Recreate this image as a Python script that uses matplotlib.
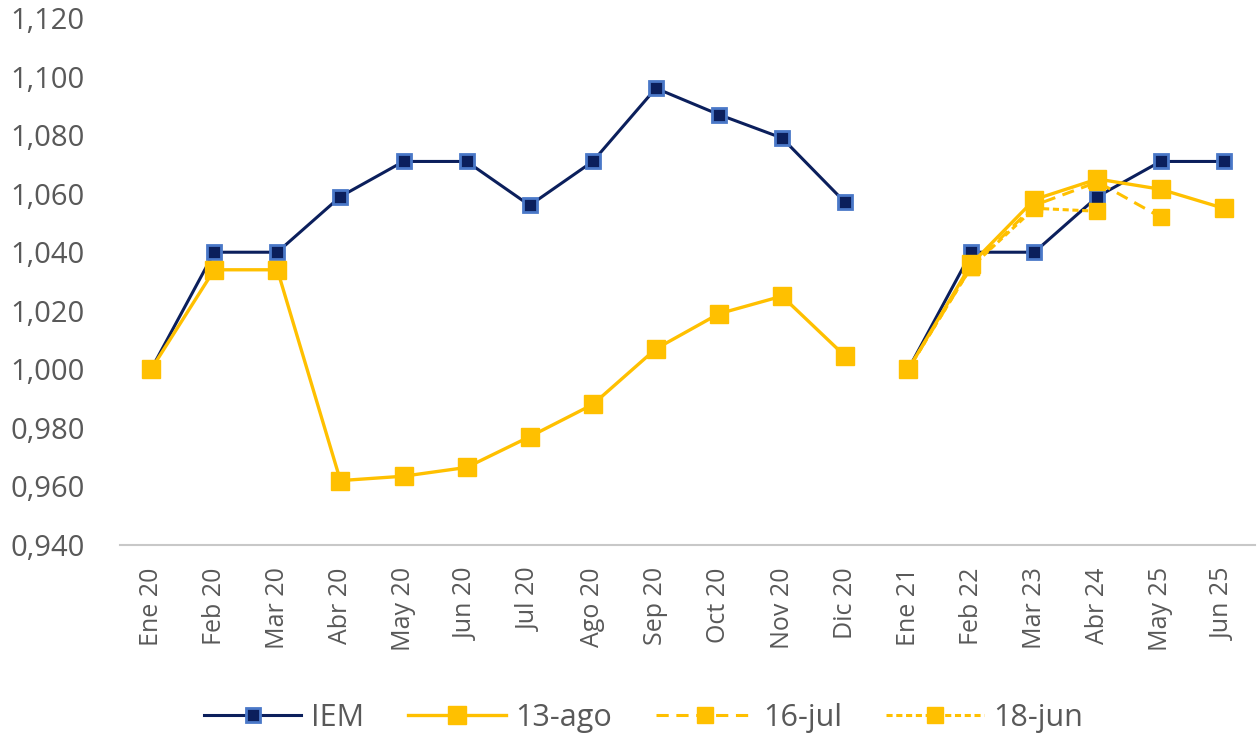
import numpy as np
import matplotlib
matplotlib.use("Agg")
import matplotlib.pyplot as plt
from matplotlib.ticker import FuncFormatter

plt.rcParams['font.family'] = ['Open Sans', 'DejaVu Sans']

# Data
categories = ["Ene 20", "Feb 20", "Mar 20", "Abr 20", "May 20", "Jun 20", "Jul 20",
              "Ago 20", "Sep 20", "Oct 20", "Nov 20", "Dic 20",
              "Ene 21", "Feb 22", "Mar 23", "Abr 24", "May 25", "Jun 25"]
nan = np.nan
iem = [1.000, 1.040, 1.040, 1.059, 1.071, 1.071, 1.056, 1.071, 1.096, 1.087, 1.079, 1.057,
       1.000, 1.040, 1.040, 1.059, 1.071, 1.071]
ago13 = [1.000, 1.034, 1.034, 0.962, 0.9635, 0.9665, 0.977, 0.988, 1.007, 1.019, 1.025, 1.0045,
         1.000, 1.036, 1.058, 1.065, 1.0615, 1.055]
jul16 = [nan] * 12 + [1.000, 1.035, 1.056, 1.064, 1.052, nan]
jun18 = [nan] * 12 + [1.000, 1.035, 1.055, 1.054, nan, nan]

x = np.arange(len(categories))

def split(vals):
    # break the line between Dic 20 and Ene 21
    xs = np.concatenate([x[:12], [11.5], x[12:]])
    ys = np.concatenate([vals[:12], [nan], vals[12:]])
    return xs, ys

navy = "#0B1F5C"
edge_blue = "#4A78C8"
yellow = "#FFC000"

fig = plt.figure(figsize=(12.59, 7.4), dpi=100)
ax = fig.add_axes([0.095, 0.2635, 0.902, 0.7122])

xs, ys = split(np.array(iem, dtype=float))
ax.plot(xs, ys, color=navy, lw=2.2, marker="s", ms=10.5,
        mfc=navy, mec=edge_blue, mew=2.0, label="IEM", zorder=2)
xs, ys = split(np.array(ago13, dtype=float))
ax.plot(xs, ys, color=yellow, lw=2.4, marker="s", ms=13,
        mfc=yellow, mec=yellow, label="13-ago", zorder=3)
xs, ys = split(np.array(jul16, dtype=float))
ax.plot(xs, ys, color=yellow, lw=2.2, ls=(0, (4, 2.5)), marker="s", ms=12,
        mfc=yellow, mec=yellow, label="16-jul", zorder=4)
xs, ys = split(np.array(jun18, dtype=float))
ax.plot(xs, ys, color=yellow, lw=2.2, ls=(0, (2, 1.2)), marker="s", ms=12,
        mfc=yellow, mec=yellow, label="18-jun", zorder=5)

ax.set_xlim(-0.5, len(categories) - 0.5)
ax.set_ylim(0.940, 1.120)
ax.set_yticks(np.arange(0.940, 1.1201, 0.020))
ax.yaxis.set_major_formatter(FuncFormatter(lambda v, p: f"{v:.3f}".replace(".", ",")))
ax.set_xticks(x)
ax.set_xticklabels(categories, rotation=90)

for s in ["top", "right", "left"]:
    ax.spines[s].set_visible(False)
ax.spines["bottom"].set_color("#C8C8C8")
ax.spines["bottom"].set_linewidth(1.5)
ax.tick_params(axis="both", length=0, labelcolor="#595959")
ax.tick_params(axis="x", pad=16, labelsize=18)
ax.tick_params(axis="y", pad=25, labelsize=21)

fig.legend(loc="center", bbox_to_anchor=(0.511, 0.03), ncol=4, frameon=False,
           fontsize=22, labelcolor="#595959", handlelength=3.2, columnspacing=1.45,
           handletextpad=0.3)

fig.savefig("out.png", dpi=100)
